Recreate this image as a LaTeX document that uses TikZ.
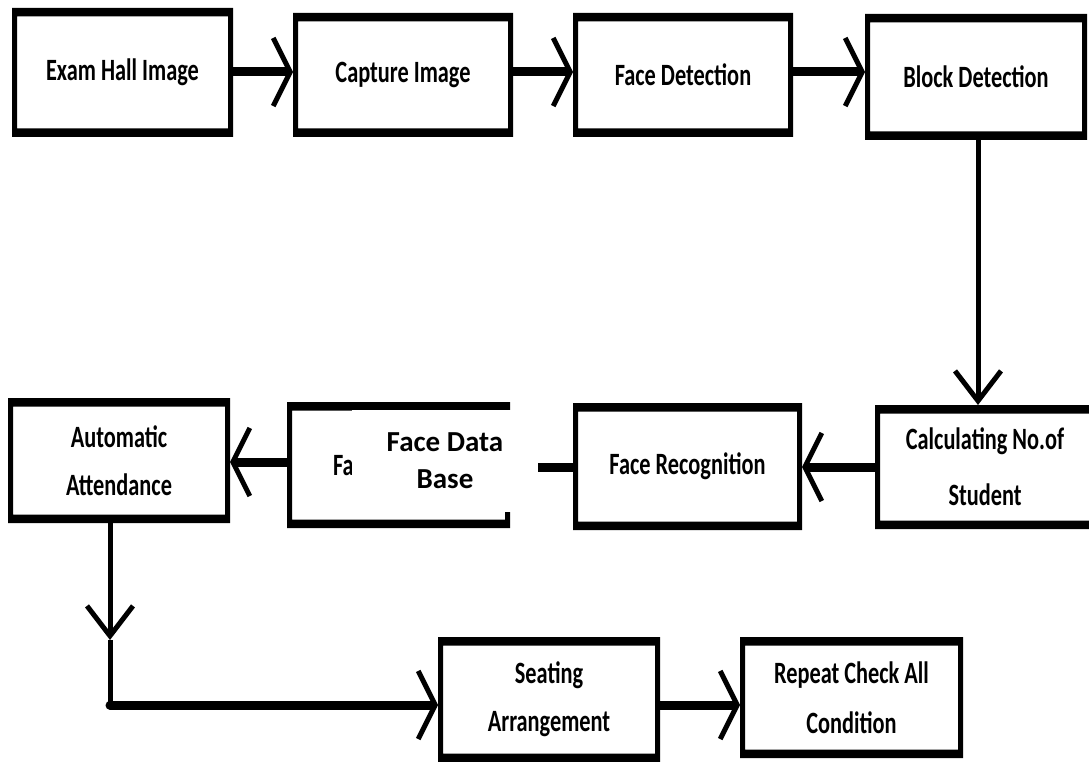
\documentclass[tikz,border=0pt]{standalone}
\usepackage{fontspec}
\newfontfamily\condfont{Carlito}[FakeStretch=0.72]
\newfontfamily\dbfont{Carlito}
\usetikzlibrary{arrows.meta}
\tikzset{
  blk/.style={draw=none, inner sep=0pt, outer sep=0pt, align=center,
    font=\condfont\bfseries\fontsize{31}{48}\selectfont},
  hline/.style={line width=9pt},
  vline/.style={line width=5pt},
  harr/.style={-{Straight Barb[length=17pt,width=68pt,line width=5pt]}},
  varr/.style={-{Straight Barb[length=30pt,width=46pt,line width=5pt]}},
}
\newcommand\frameit[1]{\fill[even odd rule] (#1.north west) rectangle (#1.south east)
  ([xshift=5pt,yshift=-8.5pt]#1.north west) rectangle ([xshift=-5pt,yshift=8.5pt]#1.south east);}
\begin{document}
\begin{tikzpicture}[x=1pt,y=-1pt]
\fill[white] (0,0) rectangle (1089,762);
\useasboundingbox (0,0) rectangle (1089,762);
% boxes
\node[blk, minimum width=221pt, minimum height=129pt] (A) at (122.5,72.5) {Exam Hall Image};
\node[blk, minimum width=220pt, minimum height=124pt] (B) at (403,75) {Capture Image};
\node[blk, minimum width=220pt, minimum height=124pt] (C) at (683,75) {Face Detection};
\node[blk, minimum width=222pt, minimum height=126pt] (D) at (976,77) {Block Detection};
\node[blk, minimum width=220pt, minimum height=124pt, font=\condfont\bfseries\fontsize{31}{56}\selectfont] (E) at (985,467) {Calculating No.of\\Student};
\node[blk, minimum width=229pt, minimum height=127pt] (F) at (687.5,466.5) {Face Recognition};
\node[blk, minimum width=223pt, minimum height=126pt] (G) at (398.5,465) {};
\node[blk, anchor=west] (Gt) at (333,466) {Fa};
\node[blk, minimum width=222pt, minimum height=125pt] (H) at (119,460.5) {Automatic\\Attendance};
\node[blk, minimum width=222pt, minimum height=125pt] (I) at (549,699.5) {Seating\\Arrangement};
\node[blk, minimum width=223pt, minimum height=121pt, font=\condfont\bfseries\fontsize{31}{50}\selectfont] (J) at (851.5,697.5) {Repeat Check All\\Condition};
\foreach \n in {A,B,C,D,E,F,G,H,I,J} {\frameit{\n}}
% helper coordinates
\coordinate (ty) at (0,72);
\coordinate (vx) at (978,0);
\coordinate (ry) at (0,467);
\coordinate (gy) at (0,462);
\coordinate (hc) at (110,705);
\coordinate (m) at (110,640);
% connectors
\draw[hline, harr] (A.east |- ty) -- (B.west |- ty);
\draw[hline, harr] (B.east |- ty) -- (C.west |- ty);
\draw[hline, harr] (C.east |- ty) -- (D.west |- ty);
\draw[vline, varr] (vx |- D.south) -- (vx |- E.north);
\draw[hline, harr] (E.west |- ry) -- (F.east |- ry);
\draw[hline] (F.west |- ry) -- (G.east |- ry);
\draw[hline, harr] (G.west |- gy) -- (H.east |- gy);
\draw[vline, varr] (hc |- H.south) -- (m);
\draw[vline] (m) -- (hc);
\draw[hline, harr, line cap=round] (hc) -- (I.west |- hc);
\draw[hline, harr] (I.east |- hc) -- (J.west |- hc);
% pasted patch
\fill[white] (352,410) rectangle (538,512);
\node[inner sep=0pt, align=center, font=\dbfont\bfseries\fontsize{29}{37}\selectfont] (DB) at (445,461) {Face Data\\Base};
\end{tikzpicture}
\end{document}
